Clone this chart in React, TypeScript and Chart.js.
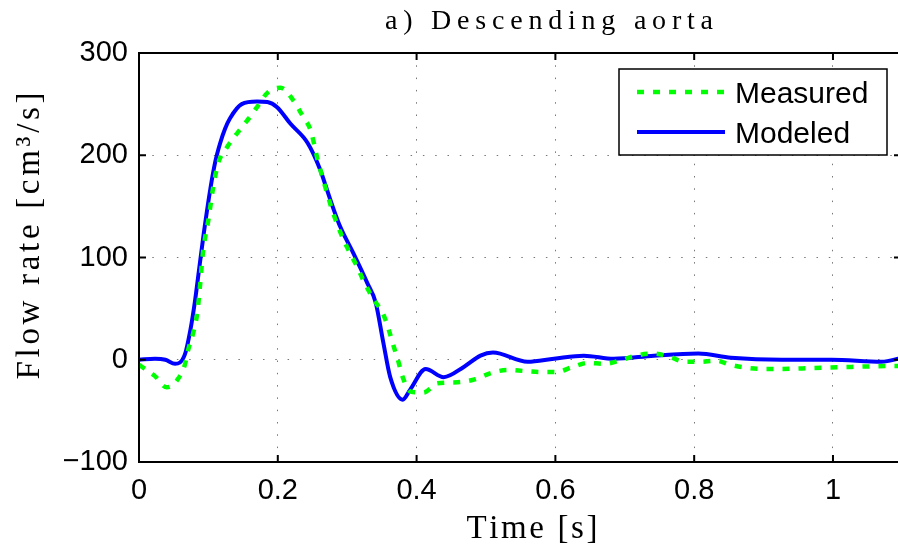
import React, { useEffect, useRef } from 'react';
import { Chart, registerables } from 'chart.js';

Chart.register(...registerables);

// ---- Data ----
const measuredTime = [0.0, 0.023, 0.04, 0.056, 0.066, 0.071, 0.078, 0.084, 0.088, 0.092, 0.1, 0.107, 0.114, 0.127, 0.142, 0.156, 0.17, 0.185, 0.204, 0.222, 0.237, 0.247, 0.258, 0.271, 0.28, 0.295, 0.315, 0.323, 0.338, 0.351, 0.36, 0.367, 0.373, 0.38, 0.391, 0.41, 0.43, 0.459, 0.485, 0.507, 0.531, 0.555, 0.579, 0.601, 0.625, 0.647, 0.67, 0.692, 0.716, 0.741, 0.764, 0.786, 0.807, 0.832, 0.853, 0.878, 0.901, 0.926, 0.973, 1.027, 1.092, 1.1];
const measuredFlow = [-5, -16, -27, -19, -5, 10, 26, 46, 73, 104, 137, 169, 192, 208, 222, 234, 247, 261, 266, 254, 237, 225, 194, 163, 143, 117, 90, 78, 59, 46, 29, 13, 0, -17, -31, -32, -23, -22, -19, -13, -10, -11, -12, -12, -7, -3, -4, -1, 4, 6, 3, -2, -2, -1, -5, -8, -9, -9, -8, -7, -6, -6];

const modeledTime = [0.0, 0.023, 0.038, 0.052, 0.066, 0.074, 0.081, 0.085, 0.093, 0.103, 0.11, 0.117, 0.124, 0.131, 0.148, 0.17, 0.185, 0.199, 0.218, 0.243, 0.261, 0.27, 0.28, 0.29, 0.309, 0.329, 0.341, 0.352, 0.362, 0.38, 0.391, 0.413, 0.439, 0.468, 0.492, 0.51, 0.56, 0.598, 0.641, 0.684, 0.742, 0.806, 0.853, 0.926, 0.998, 1.07, 1.1];
const modeledFlow = [0, 1, 0, -4, 5, 29, 59, 80, 122, 168, 194, 212, 226, 236, 250, 252.5, 252, 247, 231, 212, 186, 168, 148, 130, 104, 75, 56, 17, -17, -39, -29, -9, -17, -7, 4, 7, -2, 1, 4, 1, 4, 6, 2, 0, 0, -2, 2];

const xTicks = [0, 0.2, 0.4, 0.6, 0.8, 1];
const yTicks = [-100, 0, 100, 200, 300];
const seriesNames = ['Measured', 'Modeled'];
const titleText = 'a) Descending aorta';
const xLabelText = 'Time [s]';
const yLabelText = 'Flow rate [cm³/s]';

const SANS = '"Liberation Sans", Arial, Helvetica, sans-serif';
const SERIF = '"Liberation Serif", "Times New Roman", serif';

function spacedWidth(ctx: CanvasRenderingContext2D, text: string) {
  let w = 0;
  for (const ch of Array.from(text)) w += ctx.measureText(ch).width;
  return w;
}

function drawSpaced(ctx: CanvasRenderingContext2D, text: string, cx: number, y: number, targetWidth: number) {
  const chars = Array.from(text);
  const raw = spacedWidth(ctx, text);
  const spacing = chars.length > 1 ? (targetWidth - raw) / (chars.length - 1) : 0;
  let x = cx - targetWidth / 2;
  ctx.textAlign = 'left';
  for (const ch of chars) {
    ctx.fillText(ch, x, y);
    x += ctx.measureText(ch).width + spacing;
  }
}

const framePlugin = {
  id: 'matlabFrame',
  afterDatasetsDraw(chart: any) {
    const { ctx, chartArea, scales } = chart;
    const { left, right, top, bottom } = chartArea;
    const xs = scales.x;
    const ys = scales.y;
    ctx.save();
    // frame
    ctx.strokeStyle = '#000';
    ctx.lineWidth = 2;
    ctx.setLineDash([]);
    ctx.beginPath();
    ctx.moveTo(left - 1, top);
    ctx.lineTo(right, top);
    ctx.moveTo(left, top);
    ctx.lineTo(left, bottom);
    ctx.moveTo(left - 1, bottom);
    ctx.lineTo(right, bottom);
    ctx.stroke();
    // inward ticks
    ctx.beginPath();
    for (const v of xTicks) {
      const px = xs.getPixelForValue(v);
      ctx.moveTo(px, bottom);
      ctx.lineTo(px, bottom - 7);
      ctx.moveTo(px, top);
      ctx.lineTo(px, top + 7);
    }
    for (const v of yTicks) {
      const py = ys.getPixelForValue(v);
      ctx.moveTo(left, py);
      ctx.lineTo(left + 7, py);
      ctx.moveTo(right, py);
      ctx.lineTo(right - 4, py);
    }
    ctx.stroke();

    // legend
    const bx = right - 279;
    const by = top + 16;
    const bw = 268;
    const bh = 86;
    ctx.fillStyle = '#fff';
    ctx.fillRect(bx, by, bw, bh);
    ctx.lineWidth = 1.5;
    ctx.strokeStyle = '#000';
    ctx.strokeRect(bx, by, bw, bh);
    chart.data.datasets.forEach((ds: any, i: number) => {
      const ly = by + 23 + i * 40;
      ctx.save();
      ctx.strokeStyle = ds.borderColor;
      ctx.lineWidth = ds.borderWidth;
      ctx.lineCap = 'butt';
      ctx.setLineDash(ds.borderDash || []);
      ctx.beginPath();
      ctx.moveTo(bx + 18, ly);
      ctx.lineTo(bx + 106, ly);
      ctx.stroke();
      ctx.restore();
      ctx.fillStyle = '#000';
      ctx.font = `30px ${SANS}`;
      ctx.textAlign = 'left';
      ctx.textBaseline = 'middle';
      ctx.fillText(ds.label, bx + 116, ly + 3);
    });

    // title
    ctx.fillStyle = '#000';
    ctx.textBaseline = 'alphabetic';
    ctx.font = `28px ${SERIF}`;
    drawSpaced(ctx, titleText, 549, 29, 328);
    // x label
    ctx.font = `33px ${SERIF}`;
    drawSpaced(ctx, xLabelText, 532, 538, 131);
    // y label
    ctx.font = `33px ${SERIF}`;
    ctx.save();
    ctx.translate(39, 236);
    ctx.rotate(-Math.PI / 2);
    drawSpaced(ctx, yLabelText, 0, 0, 287);
    ctx.restore();

    ctx.restore();
  },
};

export default function App() {
  const canvasRef = useRef<HTMLCanvasElement | null>(null);

  useEffect(() => {
    const canvas = canvasRef.current;
    if (!canvas) return;
    const chart = new Chart(canvas, {
      type: 'line',
      data: {
        datasets: [
          {
            label: seriesNames[0],
            data: measuredTime.map((t, i) => ({ x: t, y: measuredFlow[i] })),
            borderColor: '#00ff00',
            borderWidth: 4.5,
            borderDash: [7, 9],
            borderCapStyle: 'butt',
            pointRadius: 0,
            cubicInterpolationMode: 'monotone',
            fill: false,
          },
          {
            label: seriesNames[1],
            data: modeledTime.map((t, i) => ({ x: t, y: modeledFlow[i] })),
            borderColor: '#0000ff',
            borderWidth: 4,
            pointRadius: 0,
            cubicInterpolationMode: 'monotone',
            fill: false,
          },
        ],
      },
      options: {
        animation: false,
        responsive: false,
        devicePixelRatio: 1,
        layout: { padding: { top: 53, left: 0, right: 0, bottom: 0 } },
        plugins: {
          legend: { display: false },
          title: { display: false },
          tooltip: { enabled: false },
        },
        scales: {
          x: {
            type: 'linear',
            min: 0,
            max: 1.0937,
            afterBuildTicks: (s: any) => {
              s.ticks = xTicks.map((v) => ({ value: v }));
            },
            afterFit: (s: any) => {
              s.height = 88;
            },
            ticks: {
              color: '#000',
              font: { family: SANS, size: 29 },
              padding: 12,
              maxRotation: 0,
              autoSkip: false,
              callback: (v: any) => String(Number(Number(v).toFixed(2))),
            },
            grid: {
              color: '#777',
              lineWidth: 1,
              drawTicks: false,
              tickLength: 0,
            },
            border: { display: true, color: '#000', width: 2, dash: [1.5, 10.8] },
          },
          y: {
            type: 'linear',
            min: -100,
            max: 300,
            afterBuildTicks: (s: any) => {
              s.ticks = yTicks.map((v) => ({ value: v }));
            },
            afterFit: (s: any) => {
              s.width = 139;
            },
            ticks: {
              color: '#000',
              font: { family: SANS, size: 29 },
              padding: 11,
              autoSkip: false,
              callback: (v: any) => (Number(v) < 0 ? '\u2212' + Math.abs(Number(v)) : String(v)),
            },
            grid: {
              color: '#777',
              lineWidth: 1,
              drawTicks: false,
              tickLength: 0,
            },
            border: { display: true, color: '#000', width: 2, dash: [1.5, 10.8] },
          },
        },
      },
      plugins: [framePlugin],
    } as any);
    return () => chart.destroy();
  }, []);

  return (
    <div style={{ position: 'absolute', left: 0, top: 0, width: 898, height: 550, background: '#fff' }}>
      <canvas ref={canvasRef} width={898} height={550} style={{ display: 'block', width: 898, height: 550 }} />
    </div>
  );
}
